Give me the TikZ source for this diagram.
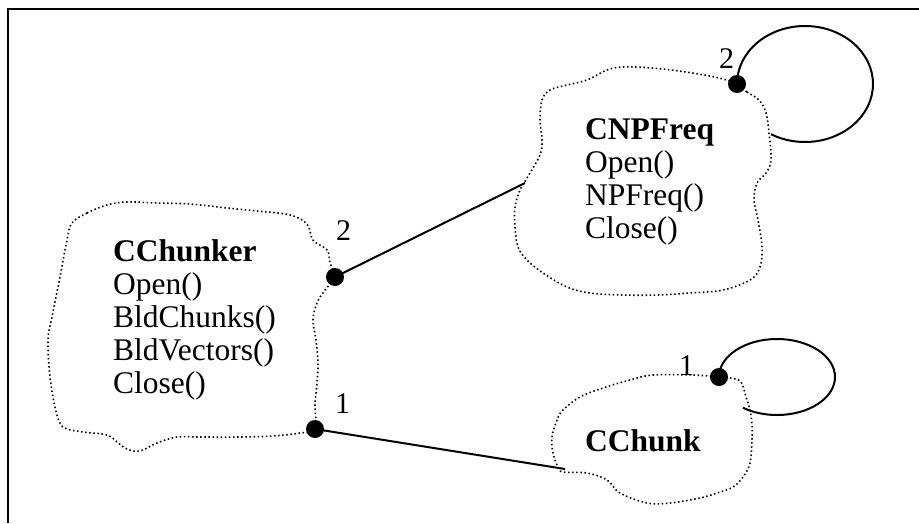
\documentclass[tikz,border=0pt]{standalone}
\usepackage{fontspec}
\setmainfont{Liberation Serif}
\begin{document}
\begin{tikzpicture}[x=1pt,y=-1pt,
  frame/.style={line width=2.4pt},
  cloud/.style={line width=1.6pt,dash pattern=on 1.5pt off 2.6pt},
  link/.style={line width=2pt},
  joint/.style={circle,fill=black,inner sep=0pt,minimum size=18pt},
  classtext/.style={anchor=base west,inner sep=0pt,font=\fontsize{31.5}{33}\selectfont},
  mult/.style={anchor=base west,inner sep=0pt,font=\fontsize{30}{33}\selectfont}]
\useasboundingbox (0,0) rectangle (919,523);

% outer frame (top and left edges only)
\draw[frame] (8,523) -- (8,9) -- (919,9);

% class outlines
\draw[cloud] plot[smooth cycle,tension=0.6] coordinates {
  (72,223) (87,213) (107,205) (127,202) (157,203) (190,204) (227,208) (257,211)
  (290,215) (307,224) (313,240) (327,250) (330,263) (335,277) (325,290) (317,303)
  (313,320) (316,340) (318,363) (317,383) (315,405) (315,429) (300,433) (273,436)
  (240,437) (200,437) (177,437) (157,443) (140,451) (127,449) (117,442) (107,435)
  (83,432) (67,429) (60,423) (55,407) (50,377) (48,340) (52,317) (60,277) (67,240)};

\draw[cloud] plot[smooth cycle,tension=0.6] coordinates {
  (737,84) (747,92) (759,100) (766,113) (769,133) (771,160) (766,173) (757,183)
  (754,200) (758,220) (762,247) (760,267) (750,280) (723,290) (690,293) (657,295)
  (623,295) (590,293) (567,287) (543,273) (527,260) (518,247) (515,227) (515,207)
  (520,190) (527,178) (540,155) (542,140) (540,120) (542,100) (550,90) (567,85)
  (587,80) (607,70) (623,67) (652,68) (686,72) (719,78)};

\draw[cloud] plot[smooth cycle,tension=0.6] coordinates {
  (719,377) (730,378) (741,382) (746,397) (750,410) (752,425) (752,440) (750,463)
  (743,477) (733,487) (717,493) (700,498) (670,503) (647,503) (620,493) (607,480)
  (587,473) (563,472) (558,467) (553,453) (552,437) (557,420) (563,410) (580,397)
  (603,388) (630,380) (653,375) (693,375)};

% class texts
\node[classtext] (chunker) at (113,261) {\begin{tabular}[t]{@{}l@{}}
  \textbf{CChunker}\\ Open()\\ BldChunks()\\ BldVectors()\\ Close()\end{tabular}};
\node[classtext] (npfreq) at (585,139) {\begin{tabular}[t]{@{}l@{}}
  \textbf{CNPFreq}\\ Open()\\ NPFreq()\\ Close()\end{tabular}};
\node[classtext] (chunk) at (585,451) {\textbf{CChunk}};

% association ends
\node[joint] (chunkerA) at (335,277) {};
\node[joint] (chunkerB) at (315,429) {};
\node[joint] (npfreqA) at (737,84) {};
\node[joint] (chunkA) at (719,377) {};

\coordinate (npfreqIn) at (525,183);
\coordinate (chunkIn) at (565,469);

\draw[link] (chunkerA.center) -- (npfreqIn);
\draw[link] (chunkerB.center) -- (chunkIn);

% self associations
\draw[link] (npfreqA.center) arc[start angle=180,end angle=480,x radius=68,y radius=58];
\draw[link] (chunkA.center) arc[start angle=180,end angle=486,x radius=58,y radius=38];

% multiplicities
\node[mult] (m1) at (336,240) {2};
\node[mult] (m2) at (335,413) {1};
\node[mult] (m3) at (719,68) {2};
\node[mult] (m4) at (679,375) {1};
\end{tikzpicture}
\end{document}
